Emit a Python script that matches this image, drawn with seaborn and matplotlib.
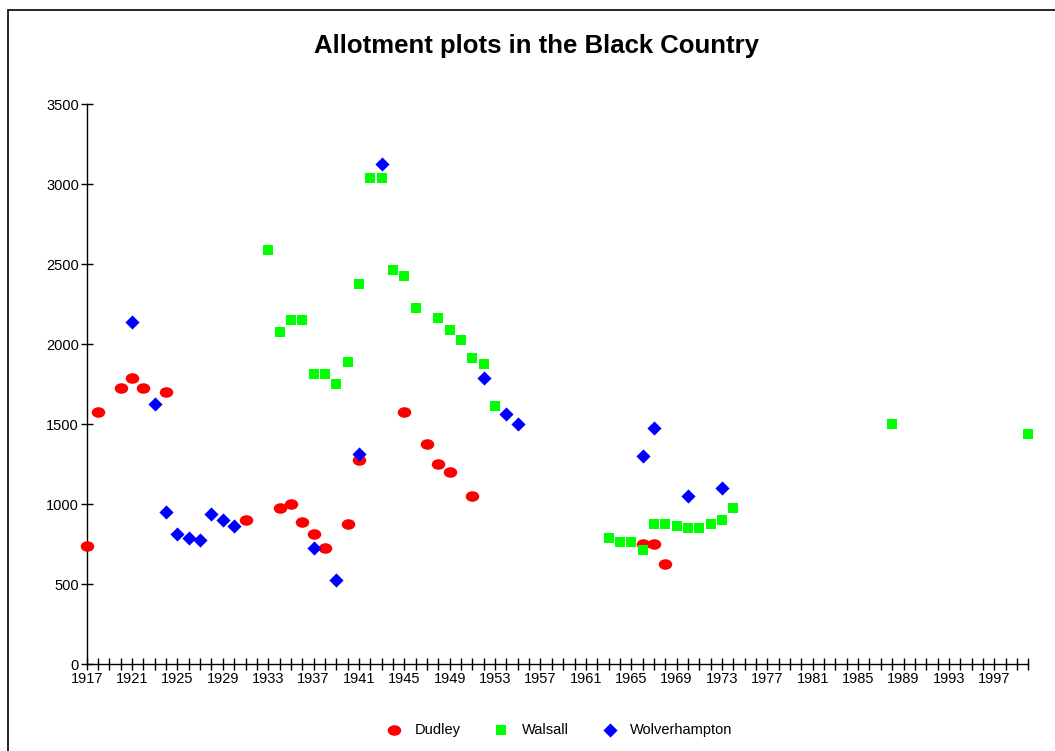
import numpy as np
import pandas as pd
import matplotlib
matplotlib.use("Agg")
import matplotlib.pyplot as plt
import seaborn as sns
from matplotlib.path import Path
from matplotlib.transforms import Affine2D
from matplotlib.patches import Rectangle

# ---- data ----
dudley_years = [1917, 1918, 1920, 1921, 1922, 1924, 1931, 1934, 1935, 1936, 1937, 1938,
                1940, 1941, 1945, 1947, 1948, 1949, 1951, 1966, 1967, 1968]
dudley_vals = [735, 1575, 1725, 1787, 1725, 1700, 900, 973, 998, 886, 811, 723,
               873, 1273, 1573, 1373, 1248, 1198, 1048, 750, 748, 623]

walsall_years = [1933, 1934, 1935, 1936, 1937, 1938, 1939, 1940, 1941, 1942, 1943, 1944,
                 1945, 1946, 1948, 1949, 1950, 1951, 1952, 1953, 1963, 1964, 1965, 1966,
                 1967, 1968, 1969, 1970, 1971, 1972, 1973, 1974, 1988, 2000]
walsall_vals = [2585, 2073, 2148, 2148, 1810, 1810, 1748, 1885, 2373, 3035, 3035, 2460,
                2423, 2223, 2160, 2085, 2023, 1910, 1873, 1610, 785, 760, 760, 710,
                873, 873, 860, 848, 848, 873, 898, 973, 1498, 1435]

wolv_years = [1921, 1923, 1924, 1925, 1926, 1927, 1928, 1929, 1930, 1937, 1939, 1941,
              1943, 1952, 1954, 1955, 1966, 1967, 1970, 1973]
wolv_vals = [2135, 1623, 948, 811, 785, 773, 935, 898, 860, 723, 523, 1310,
             3123, 1785, 1560, 1498, 1298, 1473, 1048, 1098]

series_names = ["Dudley", "Walsall", "Wolverhampton"]
title = "Allotment plots in the Black Country"

df = pd.concat([
    pd.DataFrame({"year": dudley_years, "plots": dudley_vals, "town": "Dudley"}),
    pd.DataFrame({"year": walsall_years, "plots": walsall_vals, "town": "Walsall"}),
    pd.DataFrame({"year": wolv_years, "plots": wolv_vals, "town": "Wolverhampton"}),
], ignore_index=True)

# ---- style ----
sns.set_theme(style="white")
plt.rcParams["font.family"] = ["Liberation Sans", "DejaVu Sans"]
plt.rcParams["text.color"] = "black"

fig = plt.figure(figsize=(10.55, 7.51), dpi=100)
ax = fig.add_axes([86.7 / 1055, 1 - 664 / 751, (1028.3 - 86.7) / 1055, (664 - 104) / 751])

ellipse = Path.unit_circle().transformed(Affine2D().scale(1.0, 0.78))

colors = {"Dudley": "#ff0000", "Walsall": "#00ff00", "Wolverhampton": "#0000ff"}
markers = {"Dudley": ellipse, "Walsall": "s", "Wolverhampton": "D"}
sizes = {"Dudley": 95, "Walsall": 50, "Wolverhampton": 52}

handles = []
for name in series_names:
    sub = df[df["town"] == name]
    sns.scatterplot(data=sub, x="year", y="plots", ax=ax, color=colors[name],
                    marker=markers[name], s=sizes[name], linewidth=0, legend=False,
                    zorder=3, clip_on=False)
    handles.append(ax.collections[-1])

ax.set_xlim(1917, 2000)
ax.set_ylim(0, 3500)
years = list(range(1917, 2001))
ax.set_xticks(years)
ax.set_xticklabels([str(y) if (y - 1917) % 4 == 0 else "" for y in years], fontsize=10.5)
ax.set_yticks(range(0, 3501, 500))
ax.set_yticklabels([str(v) for v in range(0, 3501, 500)], fontsize=10.5)
ax.tick_params(axis="both", direction="inout", length=9, width=1, color="black",
               labelcolor="black", bottom=True, left=True, top=False, right=False)
ax.tick_params(axis="x", pad=1)
ax.tick_params(axis="y", pad=1)
ax.set_xlabel("")
ax.set_ylabel("")
for s in ["top", "right"]:
    ax.spines[s].set_visible(False)
for s in ["left", "bottom"]:
    ax.spines[s].set_color("black")
    ax.spines[s].set_linewidth(1)
ax.grid(False)

fig.text(536 / 1055, 1 - 46 / 751, title, ha="center", va="center",
         fontsize=18.5, fontweight="bold", color="black")

leg = fig.legend(handles, series_names, loc="center", bbox_to_anchor=(556 / 1055, 1 - 730 / 751),
                 ncol=3, frameon=False, fontsize=10.5, handletextpad=0.4, columnspacing=1.8,
                 markerscale=1.0, labelcolor="black")

# figure border (left and top visible)
fig.patches.append(Rectangle((8 / 1055, -0.05), 1.2, 1 - 10 / 751 + 0.05,
                             transform=fig.transFigure, fill=False, edgecolor="black",
                             linewidth=1.2))

fig.savefig("out.png", dpi=100, facecolor="white")
